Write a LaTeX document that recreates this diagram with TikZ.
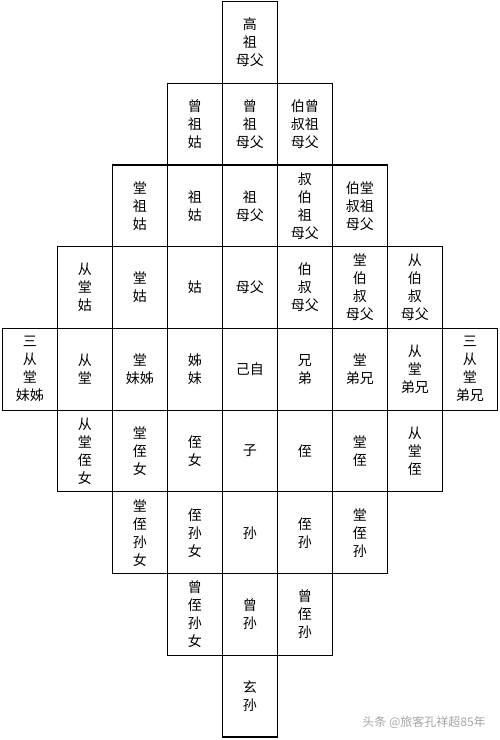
\documentclass[tikz,border=0pt]{standalone}
\usepackage{fontspec}
\newfontfamily\cjk{Noto Sans CJK SC}
\tikzstyle{cell} =[rectangle, minimum width=55pt, minimum height=81.7pt, inner sep=0pt, align=center, draw=black, line width=1.2pt, font=\cjk\fontsize{14}{18}\selectfont]
\tikzstyle{wm} =[font=\cjk\fontsize{12}{14}\selectfont, text=gray!70]
\begin{document}
\begin{tikzpicture}[node distance=55pt]
\useasboundingbox (-250pt,42.5pt) rectangle (250pt,-697.5pt);
\node (gao) [cell] {高\\祖\\母父};
\node (zeng) [cell, below of=gao, yshift=-26.7pt] {曾\\祖\\母父};
\node (zenggu) [cell, left of=zeng] {曾\\祖\\姑};
\node (zengbo) [cell, right of=zeng] {伯曾\\叔祖\\母父};
\node (zu) [cell, below of=zeng, yshift=-26.7pt] {祖\\母父};
\node (zugu) [cell, left of=zu] {祖\\姑};
\node (tangzugu) [cell, left of=zugu] {堂\\祖\\姑};
\node (bozu) [cell, right of=zu] {叔\\伯\\祖\\母父};
\node (tangbozu) [cell, right of=bozu] {伯堂\\叔祖\\母父};
\node (fu) [cell, below of=zu, yshift=-26.7pt] {母父};
\node (gu) [cell, left of=fu] {姑};
\node (tanggu) [cell, left of=gu] {堂\\姑};
\node (conggu) [cell, left of=tanggu] {从\\堂\\姑};
\node (bofu) [cell, right of=fu] {伯\\叔\\母父};
\node (tangbofu) [cell, right of=bofu] {堂\\伯\\叔\\母父};
\node (congbofu) [cell, right of=tangbofu] {从\\伯\\叔\\母父};
\node (ziji) [cell, below of=fu, yshift=-26.7pt] {己自};
\node (jiemei) [cell, left of=ziji] {姊\\妹};
\node (tangjie) [cell, left of=jiemei] {堂\\妹姊};
\node (congtang) [cell, left of=tangjie] {从\\堂};
\node (sanjie) [cell, left of=congtang] {三\\从\\堂\\妹姊};
\node (xiongdi) [cell, right of=ziji] {兄\\弟};
\node (tangxiong) [cell, right of=xiongdi] {堂\\弟兄};
\node (congxiong) [cell, right of=tangxiong] {从\\堂\\弟兄};
\node (sanxiong) [cell, right of=congxiong] {三\\从\\堂\\弟兄};
\node (zi) [cell, below of=ziji, yshift=-26.7pt] {子};
\node (zhinv) [cell, left of=zi] {侄\\女};
\node (tangzhinv) [cell, left of=zhinv] {堂\\侄\\女};
\node (congzhinv) [cell, left of=tangzhinv] {从\\堂\\侄\\女};
\node (zhi) [cell, right of=zi] {侄};
\node (tangzhi) [cell, right of=zhi] {堂\\侄};
\node (congzhi) [cell, right of=tangzhi] {从\\堂\\侄};
\node (sun) [cell, below of=zi, yshift=-26.7pt] {孙};
\node (zhisunnv) [cell, left of=sun] {侄\\孙\\女};
\node (tangsunnv) [cell, left of=zhisunnv] {堂\\侄\\孙\\女};
\node (zhisun) [cell, right of=sun] {侄\\孙};
\node (tangsun) [cell, right of=zhisun] {堂\\侄\\孙};
\node (zengsun) [cell, below of=sun, yshift=-26.7pt] {曾\\孙};
\node (zengsunnv) [cell, left of=zengsun] {曾\\侄\\孙\\女};
\node (zengzhisun) [cell, right of=zengsun] {曾\\侄\\孙};
\node (xuansun) [cell, below of=zengsun, yshift=-26.7pt] {玄\\孙};
\node (watermark) [wm] at (174pt,-679.5pt) {头条 @旅客孔祥超85年};
\end{tikzpicture}
\end{document}
